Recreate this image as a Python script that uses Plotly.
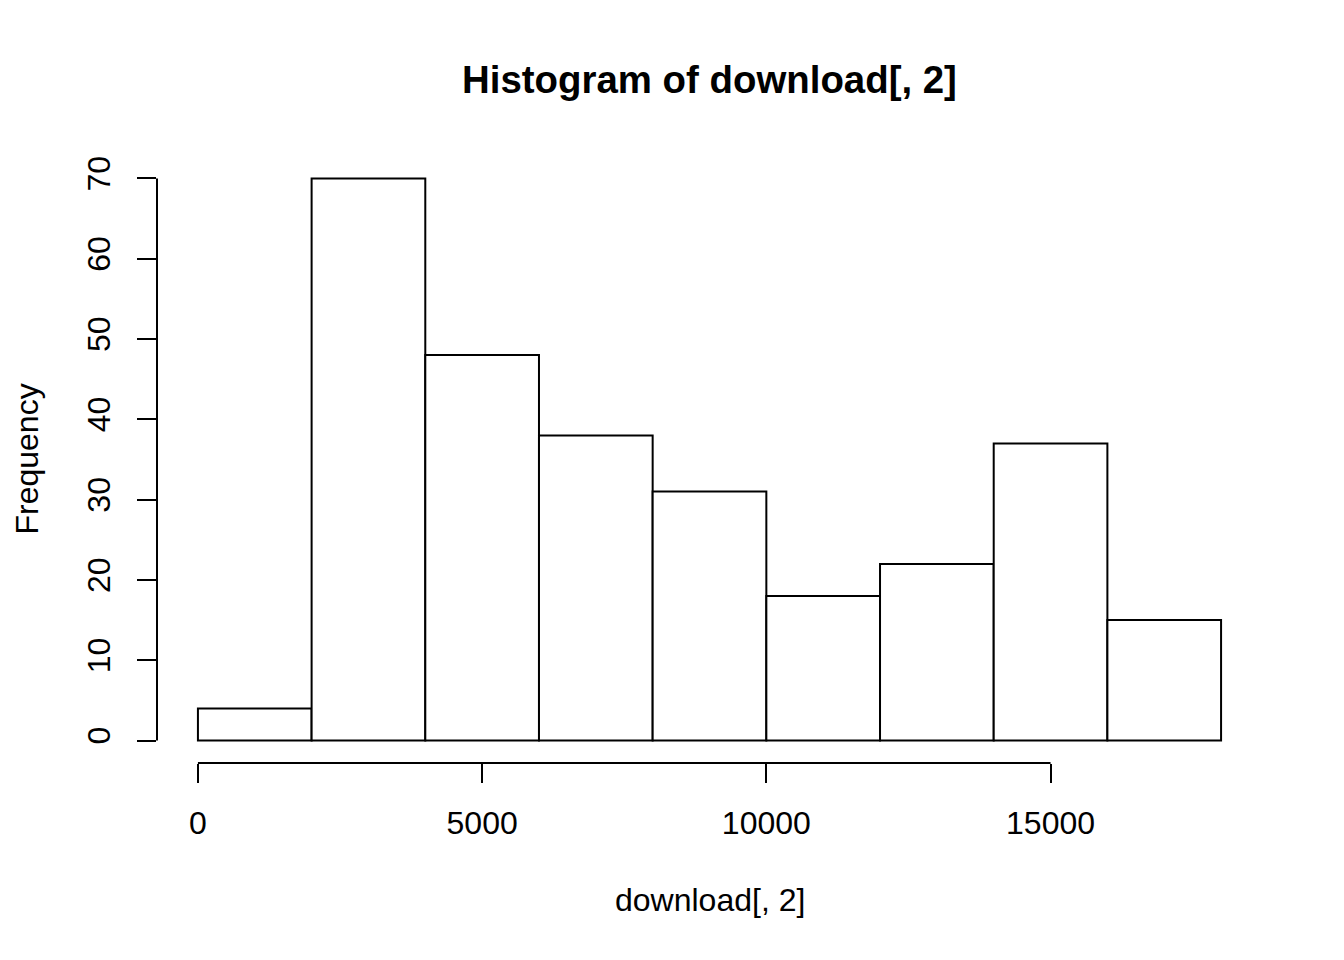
import plotly.graph_objects as go

bin_edges = [0, 2000, 4000, 6000, 8000, 10000, 12000, 14000, 16000, 18000]
counts = [4, 70, 48, 38, 31, 18, 22, 37, 15]
x_ticks = [0, 5000, 10000, 15000]
x_tick_labels = ["0", "5000", "10000", "15000"]
y_ticks = [0, 10, 20, 30, 40, 50, 60, 70]
y_tick_labels = [str(v) for v in y_ticks]

centers = [(a + b) / 2 for a, b in zip(bin_edges[:-1], bin_edges[1:])]
widths = [b - a for a, b in zip(bin_edges[:-1], bin_edges[1:])]

FONT = "Liberation Sans, Arial, sans-serif"

W, H = 1328, 944  # page body has an 8px margin

fig = go.Figure(go.Bar(
    x=centers, y=counts, width=widths,
    marker=dict(color="white", line=dict(color="black", width=2)),
    hoverinfo="skip",
))

fig.update_layout(
    width=W, height=H,
    paper_bgcolor="white", plot_bgcolor="white",
    margin=dict(l=149, r=73.5, t=148.4, b=188.5),
    showlegend=False,
    font=dict(family=FONT, size=32, color="black"),
    title=dict(text="<b>Histogram of download[, 2]</b>", x=0.5, xref="paper",
               y=1 - 72 / H, yref="container", yanchor="middle",
               font=dict(size=38.4, family=FONT, color="black")),
)

fig.update_xaxes(
    range=[-720, 18720], showgrid=False, zeroline=False, showline=False,
    tickmode="array", tickvals=x_ticks, ticktext=x_tick_labels,
    ticks="outside", ticklen=19, tickwidth=2, tickcolor="black",
    ticklabelstandoff=13,
    tickfont=dict(size=32, family=FONT, color="black"),
)
fig.update_yaxes(
    range=[-2.8, 72.8], showgrid=False, zeroline=False, showline=False,
    tickmode="array", tickvals=y_ticks, ticktext=y_tick_labels,
    ticks="outside", ticklen=19, tickwidth=2, tickcolor="black",
    tickangle=-90, ticklabelstandoff=14,
    tickfont=dict(size=32, family=FONT, color="black"),
)

# axis lines spanning only the tick range (R style)
fig.add_shape(type="line", xref="x", yref="y domain",
              x0=x_ticks[0], x1=x_ticks[-1], y0=0, y1=0,
              line=dict(color="black", width=2))
fig.add_shape(type="line", xref="x domain", yref="y",
              x0=0, x1=0, y0=y_ticks[0], y1=y_ticks[-1],
              line=dict(color="black", width=2))

fig.add_annotation(text="download[, 2]", xref="paper", yref="paper",
                   x=0.5, y=(763.5 - 901) / 607.1, xanchor="center", yanchor="middle",
                   showarrow=False, font=dict(size=32, family=FONT, color="black"))
fig.add_annotation(text="Frequency", xref="paper", yref="paper",
                   x=(26 - 157) / 1105.5, y=0.5, xanchor="center", yanchor="middle",
                   textangle=-90, borderpad=0,
                   showarrow=False, font=dict(size=32, family=FONT, color="black"))

fig.write_html("out.html")
